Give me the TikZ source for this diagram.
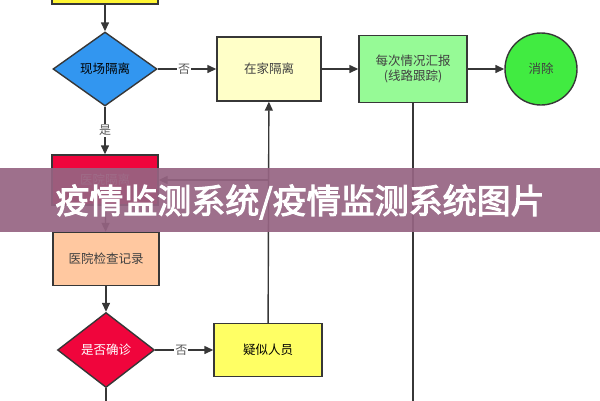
\documentclass[tikz,border=0pt]{standalone}
\usepackage{fontspec}
\setmainfont{Noto Sans CJK SC}
\newfontfamily\bannerfont{Noto Sans CJK SC}[FakeBold=3]
\usetikzlibrary{shapes.geometric,arrows.meta}
\definecolor{lineg}{RGB}{55,55,55}
\definecolor{diablue}{RGB}{50,150,240}
\definecolor{homey}{RGB}{255,255,200}
\definecolor{reportg}{RGB}{150,250,150}
\definecolor{donegreen}{RGB}{65,235,65}
\definecolor{hosred}{RGB}{240,5,60}
\definecolor{checko}{RGB}{255,200,160}
\definecolor{suspy}{RGB}{255,255,100}
\definecolor{bannerc}{RGB}{150,100,130}
\begin{document}
\begin{tikzpicture}[x=1pt,y=-1pt,
    stage/.style ={rectangle, draw=lineg, line width=1.4pt, minimum width=106pt, text=black!75, font=\fontsize{12.5}{15}\selectfont},
    decide/.style ={diamond, draw=lineg, line width=1.4pt, minimum width=104pt, minimum height=74pt, inner sep=0pt, font=\fontsize{12.5}{15}\selectfont},
    flow/.style ={draw=lineg, line width=1.4pt, -{Triangle[length=9pt,width=8pt]}},
    plain/.style ={draw=lineg, line width=1.4pt},
    tag/.style ={fill=white, inner sep=1pt, text=black!65, font=\fontsize{12}{14}\selectfont}]
   \useasboundingbox (0,0) rectangle (600,400);
   \clip (0,0) rectangle (600,400);
   \node[stage,fill=yellow!80,minimum height=26pt] (start) at (105,-9) {};
   \node[decide,fill=diablue] (site) at (105,69) {现场隔离};
   \node[stage,fill=homey,minimum width=104pt,minimum height=64pt] (home) at (269,69) {在家隔离};
   \node[stage,fill=reportg,minimum width=108pt,minimum height=67pt,align=center] (report) at (413,69) {每次情况汇报\\(线路跟踪)};
   \node[circle,draw=lineg,line width=1.4pt,fill=donegreen,minimum size=72pt,font=\fontsize{12.5}{15}\selectfont,text=black!75] (done) at (541,69) {消除};
   \node[stage,fill=hosred,minimum height=50pt,text=white!80!red] (hospital) at (105,180) {医院隔离};
   \node[stage,fill=checko,minimum height=53pt] (check) at (106,259) {医院检查记录};
   \node[decide,fill=hosred,minimum width=97pt,minimum height=75pt,text=white] (confirm) at (106,350) {是否确诊};
   \node[stage,fill=suspy,minimum width=108pt,minimum height=53pt,text=black] (suspect) at (268,350) {疑似人员};
   \coordinate (branch) at (268,180);
   \coordinate (reportend) at (413,405);
   \coordinate (confirmend) at (106,405);

   \draw[flow] (start) to (site);
   \draw[flow] (site) to node[tag,pos=0.45]{否} (home);
   \draw[flow] (home) to (report);
   \draw[flow] (report) to (done);
   \draw[flow] (site) to node[tag,pos=0.5]{是} (hospital);
   \draw[flow] (hospital) to (check);
   \draw[flow] (check) to (confirm);
   \draw[flow] (confirm) to node[tag,pos=0.45]{否} (suspect);
   \draw[flow] (suspect) to (home);
   \draw[flow] (branch) to (hospital);
   \draw[plain] (report) to (reportend);
   \draw[plain] (confirm) to (confirmend);

   \fill[bannerc,opacity=0.92] (0,168) rectangle (600,232);
   \node[text=white,font=\bannerfont\fontsize{34}{38}\selectfont] (banner) at (300,202) {疫情监测系统/疫情监测系统图片};
 \end{tikzpicture}
\end{document}
